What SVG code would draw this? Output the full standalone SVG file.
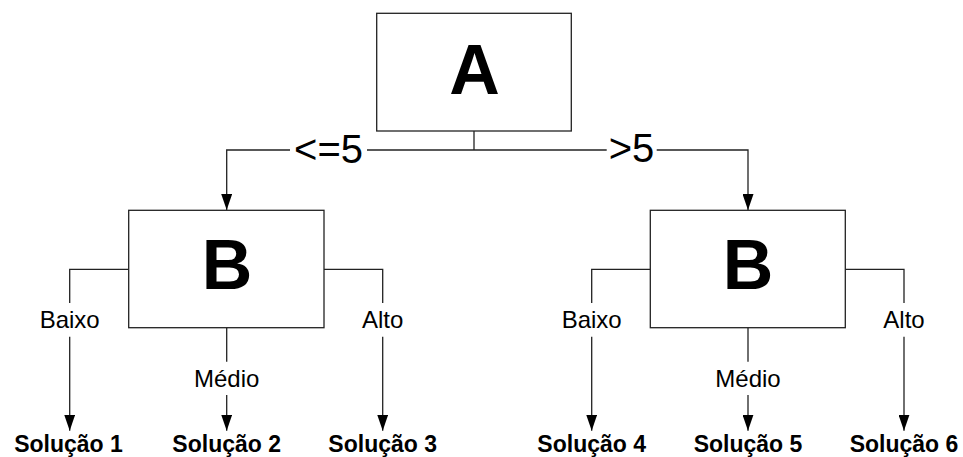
<svg xmlns="http://www.w3.org/2000/svg" width="963" height="457" viewBox="0 0 963 457">
<defs>
<marker id="arr" viewBox="0 0 16 11" refX="16" refY="5.5" markerWidth="16" markerHeight="11" markerUnits="userSpaceOnUse" orient="auto">
<path d="M0,0 L16,5.5 L0,11 z" fill="#000"/>
</marker>
<style>
.box{fill:#fff;stroke:#222;stroke-width:1.3}
.big{font-family:"Liberation Sans",Arial,sans-serif;font-weight:bold;font-size:70px;text-anchor:middle;fill:#000}
.cond{font-family:"Liberation Sans",Arial,sans-serif;font-size:40px;text-anchor:middle;fill:#000}
.lbl{font-family:"Liberation Sans",Arial,sans-serif;font-size:24px;text-anchor:middle;fill:#000}
.sol{font-family:"Liberation Sans",Arial,sans-serif;font-weight:bold;font-size:23px;text-anchor:middle;fill:#000}
.ln{fill:none;stroke:#222;stroke-width:1.3}
.ar{fill:none;stroke:#222;stroke-width:1.3;marker-end:url(#arr)}
</style>
</defs>
<rect width="963" height="457" fill="#fff"/>
<g id="connectors">
<path class="ln" d="M474,131 V150"/>
<path class="ln" d="M367,150 H474"/>
<path class="ar" d="M290,150 H226.7 V210"/>
<path class="ln" d="M474,150 H606.7"/>
<path class="ar" d="M656.7,150 H748 V210"/>
<text class="cond" x="328.5" y="163">&lt;=5</text>
<text class="cond" x="631.5" y="162">&gt;5</text>
<path class="ln" d="M128.7,269.3 H69.7 V303"/>
<path class="ar" d="M69.7,336.7 V430.7"/>
<text class="lbl" x="69.7" y="328.3">Baixo</text>
<path class="ln" d="M226.7,327.7 V361.7"/>
<path class="ar" d="M226.7,395 V430.7"/>
<text class="lbl" x="226.7" y="386.7">Médio</text>
<path class="ln" d="M324,269.3 H382.7 V303"/>
<path class="ar" d="M382.7,336.7 V430.7"/>
<text class="lbl" x="382.7" y="328.3">Alto</text>
<path class="ln" d="M650.3,269.3 H591.7 V303"/>
<path class="ar" d="M591.7,336.7 V430.7"/>
<text class="lbl" x="591.7" y="328.3">Baixo</text>
<path class="ln" d="M748,327.7 V361.7"/>
<path class="ar" d="M748,395 V430.7"/>
<text class="lbl" x="748" y="386.7">Médio</text>
<path class="ln" d="M845.3,269.3 H904 V303"/>
<path class="ar" d="M904,336.7 V430.7"/>
<text class="lbl" x="904" y="328.3">Alto</text>
</g>
<g id="nodeA">
<rect class="box" x="376.7" y="13.3" width="194.6" height="117.7"/>
<text class="big" x="474.5" y="94.3">A</text>
</g>
<g id="nodeB1">
<rect class="box" x="128.7" y="210.3" width="195.3" height="117.4"/>
<text class="big" x="227" y="289.3">B</text>
</g>
<g id="nodeB2">
<rect class="box" x="650.3" y="210.3" width="195" height="117.4"/>
<text class="big" x="748" y="289.3">B</text>
</g>
<g id="sol1"><text class="sol" x="68.5" y="451.7">Solução 1</text></g>
<g id="sol2"><text class="sol" x="226.7" y="451.7">Solução 2</text></g>
<g id="sol3"><text class="sol" x="382.7" y="451.7">Solução 3</text></g>
<g id="sol4"><text class="sol" x="591.7" y="451.7">Solução 4</text></g>
<g id="sol5"><text class="sol" x="748" y="451.7">Solução 5</text></g>
<g id="sol6"><text class="sol" x="904" y="451.7">Solução 6</text></g>
</svg>
